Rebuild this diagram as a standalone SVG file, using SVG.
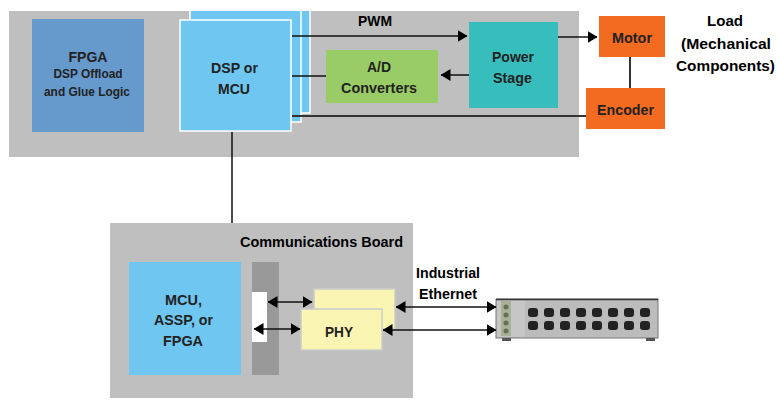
<svg xmlns="http://www.w3.org/2000/svg" width="777" height="405" viewBox="0 0 777 405">
<defs>
<style>
text{font-family:"Liberation Sans",Arial,sans-serif;font-weight:bold;text-anchor:middle;fill:#222;font-size:15.5px}
.k{fill:#000}
.s{font-size:12.5px}
.l{stroke:#111;stroke-width:1.5;fill:none}
.g{stroke:#333;stroke-width:2;fill:none}
.dsp{fill:#6ec6f1;stroke:#fff;stroke-width:1.5}
.o{fill:#f36a21}
.phy{fill:#fbf5b4;stroke:#ccc;stroke-width:1.5}
.port{fill:#222}
</style>
<marker id="a" markerUnits="userSpaceOnUse" viewBox="0 0 10 12" refX="9.5" refY="6" markerWidth="10" markerHeight="12" orient="auto-start-reverse"><path d="M0,0L10,6L0,12z" fill="#000"/></marker>
</defs>
<rect width="777" height="405" fill="#fff"/>
<g id="panels">
<rect id="main-board" x="9" y="11" width="570" height="146" fill="#bfbfbf"/>
<rect id="comm-board" x="110" y="223" width="303" height="175" fill="#bfbfbf"/>
</g>
<g id="fpga"><rect x="32" y="19" width="112" height="113" fill="#6699cc"/>
<text x="88" y="62" textLength="39" lengthAdjust="spacingAndGlyphs">FPGA</text><text class="s" x="88" y="78" textLength="69" lengthAdjust="spacingAndGlyphs">DSP Offload</text><text class="s" x="87" y="96" textLength="86" lengthAdjust="spacingAndGlyphs">and Glue Logic</text></g>
<g id="dsp">
<path class="dsp" d="M190 11V113H310V11"/>
<path class="dsp" d="M190 11V122H301V11"/>
<rect class="dsp" x="180" y="20" width="111" height="111"/>
<text x="234.500" y="73" textLength="47" lengthAdjust="spacingAndGlyphs">DSP or</text><text x="234" y="94" textLength="32" lengthAdjust="spacingAndGlyphs">MCU</text></g>
<g id="adc"><rect x="326" y="50" width="112" height="53" fill="#99cc66"/>
<text x="379" y="72" textLength="24" lengthAdjust="spacingAndGlyphs">A/D</text><text x="379" y="93" textLength="76" lengthAdjust="spacingAndGlyphs">Converters</text></g>
<g id="power"><rect x="469" y="22" width="89" height="86" fill="#38bdbd"/>
<text x="513" y="62" textLength="42" lengthAdjust="spacingAndGlyphs">Power</text><text x="512.500" y="83" textLength="39" lengthAdjust="spacingAndGlyphs">Stage</text></g>
<g id="motor"><rect class="o" x="599" y="16" width="66" height="41"/><text x="632" y="43" textLength="40" lengthAdjust="spacingAndGlyphs">Motor</text></g>
<g id="encoder"><rect class="o" x="586" y="88" width="79" height="41"/><text x="625.500" y="115" textLength="57" lengthAdjust="spacingAndGlyphs">Encoder</text></g>
<g id="load"><text class="k" x="725" y="26" textLength="36" lengthAdjust="spacingAndGlyphs">Load</text><text class="k" x="726" y="49" textLength="90" lengthAdjust="spacingAndGlyphs">(Mechanical</text><text class="k" x="725.500" y="71" textLength="99" lengthAdjust="spacingAndGlyphs">Components)</text></g>
<text class="k" x="375" y="26" textLength="34" lengthAdjust="spacingAndGlyphs">PWM</text>
<text class="k" x="321.500" y="247" textLength="163" lengthAdjust="spacingAndGlyphs">Communications Board</text>
<g id="mcu"><rect x="129" y="262" width="112" height="113" fill="#6ec6f1"/>
<text x="183.500" y="305" textLength="37" lengthAdjust="spacingAndGlyphs">MCU,</text><text x="183.500" y="325" textLength="59" lengthAdjust="spacingAndGlyphs">ASSP, or</text><text x="183" y="346" textLength="40" lengthAdjust="spacingAndGlyphs">FPGA</text></g>
<g id="bus"><rect x="252" y="262" width="27" height="113" fill="#999"/><rect x="252" y="292" width="15" height="50" fill="#fff"/></g>
<g id="phy"><rect class="phy" x="314" y="289" width="81" height="40"/><rect class="phy" x="301" y="309" width="81" height="41"/>
<text x="339" y="337" textLength="28" lengthAdjust="spacingAndGlyphs">PHY</text></g>
<text class="k" x="448" y="278" textLength="64" lengthAdjust="spacingAndGlyphs">Industrial</text><text class="k" x="448" y="299" textLength="58" lengthAdjust="spacingAndGlyphs">Ethernet</text>
<g id="switch">
<rect x="496" y="299" width="162" height="39" fill="#bcbcbc" stroke="#777" stroke-width="1"/>
<rect x="497" y="300" width="28" height="37" fill="#c6c6c6"/>
<path d="M496 299.500H658" stroke="#333" stroke-width="1.500"/>
<rect x="501" y="301" width="10" height="35" fill="#aab098"/>
<rect x="502" y="338" width="9" height="3" fill="#555"/><rect x="646" y="338" width="9" height="3" fill="#555"/>
<g fill="#667055"><circle cx="506" cy="307" r="2.500"/><circle cx="506" cy="315" r="2.500"/><circle cx="506" cy="323" r="2.500"/><circle cx="506" cy="331" r="2.500"/></g>
<g class="port">
<rect x="528" y="308" width="10" height="9" rx="3"/><rect x="544" y="308" width="10" height="9" rx="3"/><rect x="560" y="308" width="10" height="9" rx="3"/><rect x="576" y="308" width="10" height="9" rx="3"/><rect x="592" y="308" width="10" height="9" rx="3"/><rect x="608" y="308" width="10" height="9" rx="3"/><rect x="624" y="308" width="10" height="9" rx="3"/><rect x="640" y="308" width="10" height="9" rx="3"/>
<rect x="528" y="321" width="10" height="9" rx="3"/><rect x="544" y="321" width="10" height="9" rx="3"/><rect x="560" y="321" width="10" height="9" rx="3"/><rect x="576" y="321" width="10" height="9" rx="3"/><rect x="592" y="321" width="10" height="9" rx="3"/><rect x="608" y="321" width="10" height="9" rx="3"/><rect x="624" y="321" width="10" height="9" rx="3"/><rect x="640" y="321" width="10" height="9" rx="3"/>
</g>
</g>
<g id="connectors">
<path class="l" d="M292 36H467" marker-end="url(#a)"/>
<path class="l" d="M292 76H326"/>
<path class="l" d="M469 75H441" marker-end="url(#a)"/>
<path class="g" d="M292 116H586"/>
<path class="l" d="M558 37H597" marker-end="url(#a)"/>
<path class="g" d="M630 57V88"/>
<path class="l" d="M232 132V223"/>
<path class="l" d="M268 302H312" marker-start="url(#a)" marker-end="url(#a)"/>
<path class="l" d="M254 329H300" marker-start="url(#a)" marker-end="url(#a)"/>
<path class="l" d="M396 307H496" marker-start="url(#a)" marker-end="url(#a)"/>
<path class="l" d="M383 330H496" marker-start="url(#a)" marker-end="url(#a)"/>
</g>
</svg>
